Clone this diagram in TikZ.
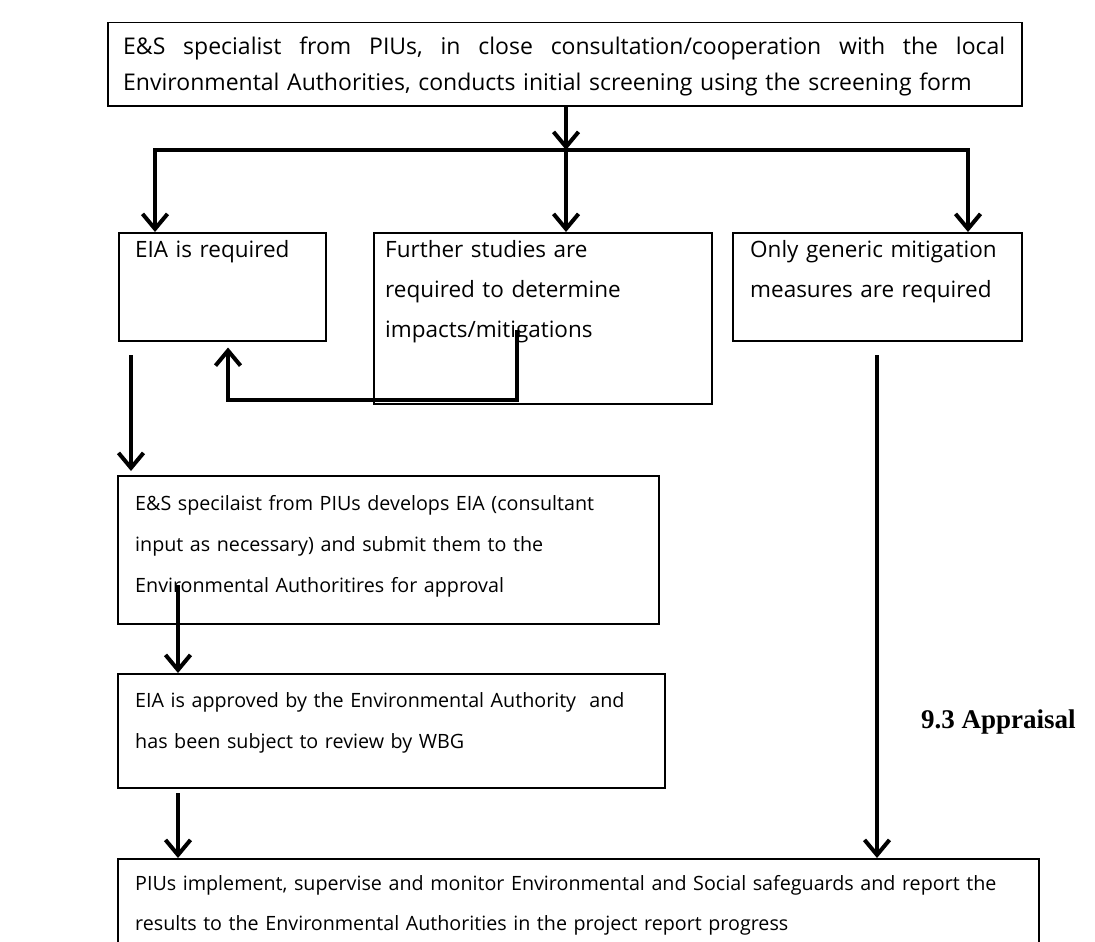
\documentclass[tikz,border=0pt]{standalone}
\usepackage{fontspec}
\setmainfont{Open Sans}
\newfontfamily\apfont{Liberation Serif}
\usetikzlibrary{arrows.meta}
\newcommand{\hf}{\hspace{0pt plus 1fil}}
\begin{document}
\begin{tikzpicture}[x=1pt,y=-1pt,
  box/.style={draw=black, line width=1.5pt, rectangle, inner sep=0pt, anchor=north west},
  txt/.style={anchor=base west, inner sep=0pt, align=left, font=\fontsize{19.7}{41}\selectfont},
  bigtxt/.style={txt, font=\fontsize{22.5}{40}\selectfont},
  arr/.style={line width=4pt, -{Straight Barb[length=15pt,width=25pt]}},
  conn/.style={line width=4pt}]
\useasboundingbox (0,0) rectangle (1095,942);
\fill[white] (0,0) rectangle (1095,942);
% boxes
\node[box, minimum width=914pt, minimum height=83pt] (top) at (107,22) {};
\node[box, minimum width=207pt, minimum height=108pt] (eia) at (118,232) {};
\node[box, minimum width=338pt, minimum height=171pt] (mid) at (373,232) {};
\node[box, minimum width=289pt, minimum height=108pt] (rgt) at (732,232) {};
\node[box, minimum width=541pt, minimum height=148pt] (dev) at (117,475) {};
\node[box, minimum width=547pt, minimum height=114pt] (app) at (117,673) {};
\node[box, minimum width=921pt, minimum height=100pt] (fin) at (117,858) {};
% texts
\node[txt, text width=882pt, font=\fontsize{23}{36}\selectfont] (toptxt) at (123,55)
  {\hbox to 882pt{E\&S \hf specialist \hf from \hf PIUs, \hf in \hf close \hf consultation/cooperation \hf with \hf the \hf local}\\
   Environmental Authorities, conducts initial screening using the screening form};
\node[bigtxt, text width=180pt] (eiatxt) at (135,257) {EIA is required};
\node[bigtxt, text width=310pt] (midtxt) at (385,257) {Further studies are\\ required to determine\\ impacts/mitigations};
\node[bigtxt, text width=280pt] (rgttxt) at (750,257) {Only generic mitigation\\ measures are required};
\node[txt, text width=520pt] (devtxt) at (135,510) {E\&S specilaist from PIUs develops EIA (consultant\\ input as necessary) and submit them to the\\ Environmental Authoritires for approval};
\node[txt, text width=520pt] (apptxt) at (135,707) {EIA is approved by the Environmental Authority\ \ and\\ has been subject to review by WBG};
\node[txt, text width=900pt, font=\fontsize{19.7}{40}\selectfont] (fintxt) at (135,890) {PIUs implement, supervise and monitor Environmental and Social safeguards and report the\\ results to the Environmental Authorities in the project report progress};
\node[anchor=base west, inner sep=0pt, font=\apfont\bfseries\fontsize{27}{30}\selectfont] (appr) at (921,728) {9.3 Appraisal};
% connectors
\coordinate (bM) at (566,150);
\coordinate (bL) at (155,150);
\coordinate (bR) at (968,150);
\draw[arr] (top.south -| bM) -- (bM);
\draw[arr] (bM) -| (bL |- eia.north);
\draw[arr] (bM) -| (bR |- rgt.north);
\draw[arr] (bM) -- (bM |- mid.north);
\coordinate (fb) at (517,330);
\coordinate (fbc) at (228,400);
\draw[arr, shorten >=6pt] (fb) |- (fbc) -- (fbc |- eia.south);
\coordinate (e1) at (131,355);
\draw[arr, shorten >=4pt] (e1) -- (e1 |- dev.north);
\coordinate (d1) at (178,585);
\draw[arr] (d1) -- (d1 |- app.north);
\coordinate (a1) at (178,793);
\draw[arr] (a1) -- (a1 |- fin.north);
\coordinate (r1) at (877,355);
\draw[arr] (r1) -- (r1 |- fin.north);
\end{tikzpicture}
\end{document}
